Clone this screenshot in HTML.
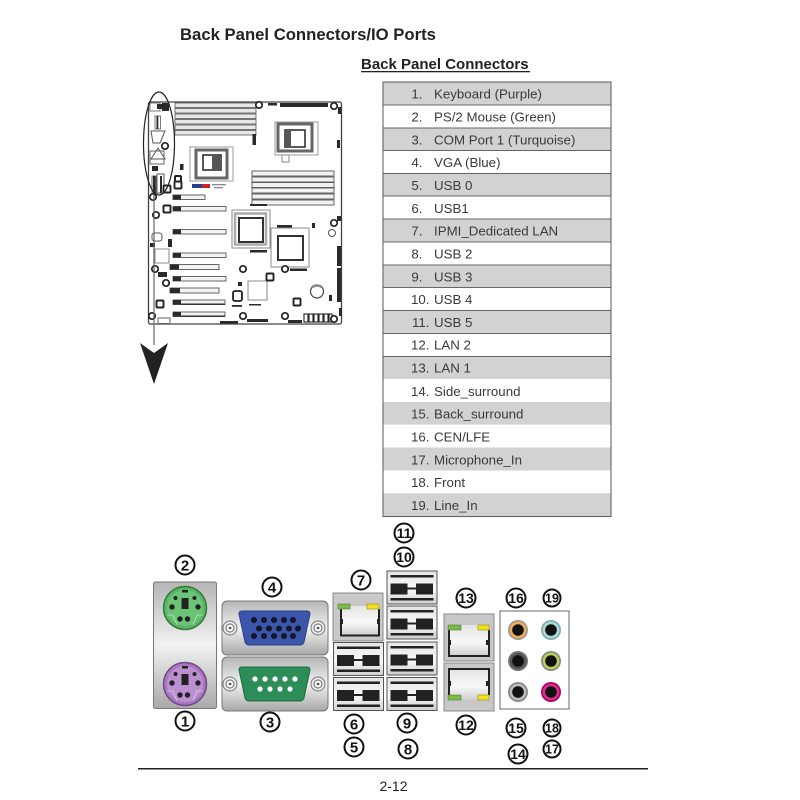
<!DOCTYPE html>
<html><head><meta charset="utf-8"><style>
html,body{margin:0;padding:0;background:#fff}
svg{display:block}
text{font-family:"Liberation Sans",sans-serif}
.t{font-size:13.3px;fill:#3a3a3a}
.n{font-size:13.3px;fill:#3a3a3a;text-anchor:end}
.c{font-size:15px;fill:#111;text-anchor:middle;font-weight:bold}
.d{font-size:14px;fill:#111;text-anchor:middle;font-weight:bold}
.e{font-size:12.5px;fill:#111;text-anchor:middle;font-weight:bold}
.cc{fill:#fff;stroke:#111;stroke-width:2}
.plate{stroke:#777;stroke-width:1}
</style></head><body>
<svg width="800" height="800" viewBox="0 0 800 800" xmlns="http://www.w3.org/2000/svg">
<defs>
<linearGradient id="pl" x1="0" y1="0" x2="0" y2="1"><stop offset="0" stop-color="#b5b5b5"/><stop offset=".5" stop-color="#f2f2f2"/><stop offset="1" stop-color="#a8a8a8"/></linearGradient>
<linearGradient id="pl2" x1="0" y1="0" x2="0" y2="1"><stop offset="0" stop-color="#e4e4e4"/><stop offset=".55" stop-color="#f8f8f8"/><stop offset="1" stop-color="#cfcfcf"/></linearGradient>
<g id="usb"><rect width="50" height="33" fill="url(#pl2)" stroke="#555" stroke-width="1"/><rect x="3.500" y="4" width="43" height="2.500" fill="#222"/><rect x="3.500" y="27" width="43" height="2.500" fill="#222"/><rect x="3.500" y="12.500" width="17" height="11" fill="#222"/><rect x="29" y="12.500" width="17" height="11" fill="#222"/><rect x="20" y="16.500" width="9" height="2" fill="#222"/></g>
<g id="ps2"><rect x="-3" y="-18" width="6" height="2.500" fill="#222"/><rect x="-3.500" y="-10" width="7" height="11" fill="#222"/><circle cx="-13" cy="-1" r="2.700" fill="#222"/><circle cx="13" cy="-1" r="2.700" fill="#222"/><circle cx="-5" cy="11" r="2.700" fill="#222"/><circle cx="2.500" cy="11" r="2.700" fill="#222"/><circle cx="-9.500" cy="-10" r="2" fill="#222"/><circle cx="9.500" cy="-10" r="2" fill="#222"/><path d="M-18 7H-12L-8 17M18 7H12L8 17" fill="none" stroke="#fff" stroke-opacity=".55" stroke-width=".8"/></g>
<g id="screw"><circle r="7" fill="#e8e8e8" stroke="#777"/><circle r="4" fill="#fff" stroke="#666"/><circle r="1.400" fill="#555"/></g>
<g id="ring"><circle r="3.200" fill="#fff" stroke="#222" stroke-width="1.700"/></g>
<g id="sq"><rect x="-3.500" y="-3.500" width="7" height="7" rx="1" fill="#fff" stroke="#222" stroke-width="1.900"/></g>
</defs>

<rect width="800" height="800" fill="#fff"/>
<text x="180" y="40" font-size="16.7" font-weight="bold" fill="#222">Back Panel Connectors/IO Ports</text>
<text x="361" y="69" font-size="15" font-weight="bold" fill="#222">Back Panel Connectors</text>
<rect x="361" y="71" width="169" height="1.300" fill="#222"/>

<!-- table -->
<g fill="#d2d2d2">
<rect x="383" y="82" width="228" height="23"/><rect x="383" y="128" width="228" height="22.500"/><rect x="383" y="173.500" width="228" height="22.500"/><rect x="383" y="219" width="228" height="23"/><rect x="383" y="265" width="228" height="22.500"/><rect x="383" y="310.500" width="228" height="23"/><rect x="383" y="356.500" width="228" height="22.500"/><rect x="383" y="402" width="228" height="22.700"/><rect x="383" y="447.500" width="228" height="23"/><rect x="383" y="493.300" width="228" height="23"/>
</g>
<g stroke="#666" stroke-width="1.100" fill="none">
<rect x="383" y="82" width="228" height="434.500"/>
<path d="M383 105H611M383 128H611M383 150.500H611M383 173.500H611M383 196H611M383 219H611M383 242H611M383 265H611M383 287.500H611M383 310.500H611M383 333.500H611M383 356.500H611"/>
</g>
<g>
<text class="n" x="422.500" y="98.500">1.</text><text class="t" x="434" y="98.500">Keyboard (Purple)</text>
<text class="n" x="422.500" y="121.500">2.</text><text class="t" x="434" y="121.500">PS/2 Mouse (Green)</text>
<text class="n" x="422.500" y="144.500">3.</text><text class="t" x="434" y="144.500">COM Port 1 (Turquoise)</text>
<text class="n" x="422.500" y="167">4.</text><text class="t" x="434" y="167">VGA (Blue)</text>
<text class="n" x="422.500" y="190">5.</text><text class="t" x="434" y="190">USB 0</text>
<text class="n" x="422.500" y="213">6.</text><text class="t" x="434" y="213">USB1</text>
<text class="n" x="422.500" y="235.500">7.</text><text class="t" x="434" y="235.500">IPMI_Dedicated LAN</text>
<text class="n" x="422.500" y="258.500">8.</text><text class="t" x="434" y="258.500">USB 2</text>
<text class="n" x="422.500" y="281.500">9.</text><text class="t" x="434" y="281.500">USB 3</text>
<text class="n" x="429.500" y="304">10.</text><text class="t" x="434" y="304">USB 4</text>
<text class="n" x="429.500" y="327">11.</text><text class="t" x="434" y="327">USB 5</text>
<text class="n" x="429.500" y="349.500">12.</text><text class="t" x="434" y="349.500">LAN 2</text>
<text class="n" x="429.500" y="372.500">13.</text><text class="t" x="434" y="372.500">LAN 1</text>
<text class="n" x="429.500" y="396">14.</text><text class="t" x="434" y="396">Side_surround</text>
<text class="n" x="429.500" y="418.500">15.</text><text class="t" x="434" y="418.500">Back_surround</text>
<text class="n" x="429.500" y="441.500">16.</text><text class="t" x="434" y="441.500">CEN/LFE</text>
<text class="n" x="429.500" y="464.500">17.</text><text class="t" x="434" y="464.500">Microphone_In</text>
<text class="n" x="429.500" y="487">18.</text><text class="t" x="434" y="487">Front</text>
<text class="n" x="429.500" y="510">19.</text><text class="t" x="434" y="510">Line_In</text>
</g>

<!-- motherboard -->
<rect x="148.500" y="102" width="193" height="222" rx="2" fill="#fff" stroke="#444" stroke-width="1.300"/>
<!-- top-left DIMMs -->
<g fill="#e8e8e8" stroke="#555" stroke-width=".8">
<rect x="175" y="103" width="81" height="4.500"/><rect x="175" y="108.500" width="81" height="4.500"/><rect x="175" y="114" width="81" height="4.500"/><rect x="175" y="119.500" width="81" height="4.500"/><rect x="175" y="125" width="81" height="4.500"/><rect x="175" y="130.500" width="81" height="4.500"/>
</g>
<!-- right DIMMs -->
<g fill="#f2f2f2" stroke="#555" stroke-width=".9">
<rect x="252" y="171" width="82" height="5"/><rect x="252" y="177" width="82" height="5"/><rect x="252" y="182.500" width="82" height="5"/><rect x="252" y="188" width="82" height="5"/><rect x="252" y="194" width="82" height="5"/><rect x="252" y="200" width="82" height="5"/>
</g>
<g fill="none" stroke="#444" stroke-width="1">
<!-- CPU1 -->
<rect x="190" y="147" width="43" height="34" stroke="#999"/>
<rect x="196" y="150" width="31" height="28" stroke="#666" stroke-width="3"/>
<rect x="203" y="155" width="18" height="15" stroke="#222" stroke-width="1.500"/>
<rect x="212" y="156" width="8" height="14" fill="#555" stroke="none"/>
<!-- CPU2 -->
<rect x="275" y="122" width="43" height="33" stroke="#999"/>
<rect x="278" y="124" width="34" height="27" stroke="#666" stroke-width="3"/>
<rect x="285" y="130" width="20" height="17" stroke="#222" stroke-width="1.500"/>
<rect x="285" y="131" width="6" height="15" fill="#555" stroke="none"/>
<rect x="282" y="155" width="7" height="7" stroke="#888"/>
<!-- big chips -->
<rect x="232" y="210" width="38" height="38" stroke="#888"/>
<rect x="235" y="213.500" width="31" height="31" stroke="#aaa" stroke-width="2.500"/>
<rect x="239" y="218" width="24" height="24" stroke="#333" stroke-width="2"/>
<rect x="271" y="228" width="38" height="39" stroke="#888"/>
<rect x="278" y="236" width="25" height="24" stroke="#333" stroke-width="2"/>
<!-- slots -->
<g stroke="#666" fill="#f4f4f4">
<rect x="173" y="195" width="32" height="4.500"/>
<rect x="173" y="206.500" width="53" height="4.500"/>
<rect x="173" y="229.500" width="53" height="4.500"/>
<rect x="173" y="253" width="53" height="4.500"/>
<rect x="170" y="264.500" width="49" height="5"/>
<rect x="173" y="276.500" width="53" height="4.500"/>
<rect x="170" y="288" width="49" height="5"/>
<rect x="173" y="300" width="52" height="4.500"/>
<rect x="173" y="312" width="52" height="4.500"/>
</g>
<!-- small parts -->
<rect x="155" y="249" width="14" height="14" stroke="#888"/>
<rect x="152" y="233" width="10" height="8" rx="2.500" stroke="#555"/>
<rect x="248" y="281" width="19" height="19" stroke="#888"/>
<rect x="233" y="291" width="9" height="10" rx="2" stroke="#222" stroke-width="1.800"/>
<circle cx="317" cy="291.500" r="6.500" stroke="#444" stroke-width="1.200"/>
<path d="M312 287Q317 284 322 287" stroke="#888" stroke-width="2.500"/>
<circle cx="332" cy="233" r="3.500" stroke="#555"/>
<rect x="158" y="318" width="12" height="5.500" stroke="#666"/>
<!-- left IO drawn inside ellipse -->
<rect x="150" y="103" width="10" height="8" stroke="#777"/>
<rect x="155" y="116" width="5.500" height="13" stroke="#777"/>
<path d="M151 131H165L160 143H153ZM151 159L158 148L165 159Z" stroke="#555"/>
<rect x="150" y="151" width="14" height="13" stroke="#666"/>
<rect x="152" y="176" width="4" height="17" stroke="#666"/>
<rect x="157" y="174" width="7" height="19" stroke="#555"/>
</g>
<!-- solid parts -->
<g fill="#2a2a2a">
<rect x="173" y="195" width="8" height="4.500"/><rect x="173" y="206.500" width="8" height="4.500"/><rect x="173" y="229.500" width="8" height="4.500"/><rect x="173" y="253" width="8" height="4.500"/><rect x="170" y="264.500" width="9" height="5"/><rect x="173" y="276.500" width="8" height="4.500"/><rect x="170" y="288" width="10" height="5"/><rect x="173" y="300" width="8" height="4.500"/><rect x="173" y="312" width="8" height="4.500"/>
<rect x="181" y="303.500" width="44" height="1.300"/><rect x="181" y="315.500" width="44" height="1.300"/>
<rect x="252.500" y="134" width="3.500" height="11"/>
<rect x="268" y="103" width="9" height="2.500"/>
<rect x="280" y="103" width="48" height="4"/>
<rect x="337" y="140" width="3" height="8"/>
<rect x="338" y="107" width="3" height="7"/>
<rect x="337" y="216" width="4" height="5"/>
<rect x="250" y="250" width="17" height="2.500"/>
<rect x="250" y="204" width="17" height="2"/>
<rect x="277" y="225" width="15" height="2.500"/>
<rect x="290" y="268.500" width="17" height="2.500"/>
<rect x="249" y="304" width="12" height="1.500"/>
<rect x="232" y="305" width="10" height="1.800"/>
<rect x="247" y="319" width="21" height="3"/>
<rect x="288" y="320" width="14" height="3"/>
<rect x="220" y="321" width="18" height="2.500"/>
<rect x="337" y="246" width="4" height="20"/>
<rect x="337" y="268" width="4" height="34"/>
<rect x="339" y="308" width="3" height="8"/>
<rect x="329" y="295" width="3" height="6"/>
<rect x="312" y="223" width="3" height="5"/>
<rect x="238" y="282" width="4" height="4"/>
<rect x="168" y="239" width="4" height="8"/>
<rect x="150" y="243" width="5" height="4"/>
<rect x="158" y="272" width="9" height="5"/>
<rect x="180" y="164" width="3.500" height="6"/>
<rect x="175" y="176" width="6" height="6" rx="1" fill="none" stroke="#222" stroke-width="2"/>
<rect x="156.500" y="116" width="1.800" height="13"/>
<rect x="152" y="166" width="6" height="5"/>
<rect x="153" y="176" width="2.500" height="17"/>
<rect x="160" y="176" width="2" height="17"/>
<rect x="157" y="104" width="8" height="5"/>
<rect x="162" y="103" width="7" height="8"/>
</g>
<!-- connector row bottom right -->
<g fill="#fff" stroke="#222" stroke-width="1.100">
<rect x="304" y="314" width="4" height="8"/><rect x="309" y="314" width="4" height="8"/><rect x="314" y="314" width="4" height="8"/><rect x="319" y="314" width="4" height="8"/><rect x="324" y="314" width="4" height="8"/><rect x="329" y="314" width="3" height="8"/>
</g>
<rect x="192" y="184" width="10" height="4" fill="#2a3f8a"/><rect x="202" y="184" width="8" height="4" fill="#c22"/>
<g fill="#888"><rect x="212" y="184" width="14" height="1.300"/><rect x="214" y="187" width="9" height="1.300"/></g>
<use href="#ring" x="259" y="105"/><use href="#ring" x="334" y="106"/><use href="#ring" x="165" y="146"/><use href="#ring" x="153" y="197"/><use href="#ring" x="156" y="215"/><use href="#ring" x="155" y="269"/><use href="#ring" x="166" y="283"/><use href="#ring" x="152" y="316"/><use href="#ring" x="243" y="269"/><use href="#ring" x="285" y="269"/><use href="#ring" x="243" y="316"/><use href="#ring" x="285" y="316"/><use href="#ring" x="334" y="223"/><use href="#ring" x="334" y="319"/>
<use href="#sq" x="167" y="189"/><use href="#sq" x="178" y="185"/><use href="#sq" x="167" y="209"/><use href="#sq" x="160" y="304"/><use href="#sq" x="297" y="302"/><use href="#sq" x="270" y="277"/>
<ellipse cx="159" cy="143.500" rx="15.500" ry="51.500" stroke="#222" stroke-width="1.200" fill="none"/>

<!-- arrow -->
<path d="M154 195V345" stroke="#666" stroke-width="1.200"/>
<path d="M140 343L154 353L168 343L154 384Z" fill="#222"/>

<!-- PS/2 plate -->
<rect class="plate" x="153.500" y="582" width="63" height="126.500" rx="2" fill="url(#pl)"/>
<circle cx="185" cy="608" r="21.500" fill="#5bb565" stroke="#2f7d3a" stroke-width="1.500"/>
<circle cx="185" cy="608" r="18" fill="#6cc476"/>
<use href="#ps2" x="185" y="608"/>
<circle cx="185" cy="684" r="21.500" fill="#a878c0" stroke="#6f4a85" stroke-width="1.500"/>
<circle cx="185" cy="684" r="18" fill="#bb8fd0"/>
<use href="#ps2" x="185" y="684"/>

<!-- VGA / COM -->
<rect class="plate" x="222" y="601" width="106" height="54" rx="5" fill="url(#pl)"/>
<rect class="plate" x="222" y="657" width="106" height="54" rx="5" fill="url(#pl)"/>
<use href="#screw" x="230" y="628"/><use href="#screw" x="318" y="628"/><use href="#screw" x="230" y="684"/><use href="#screw" x="318" y="684"/>
<path d="M242 611H307Q310 611 310 614L304 642Q303 645 300 645H249Q246 645 245 642L239 614Q239 611 242 611Z" fill="#3c56ab" stroke="#2b3f85"/>
<path d="M242 667H307Q310 667 310 670L304 698Q303 701 300 701H249Q246 701 245 698L239 670Q239 667 242 667Z" fill="#2c8d58" stroke="#1e6b41"/>
<g fill="#14172a">
<circle cx="254" cy="620" r="3"/><circle cx="264" cy="620" r="3"/><circle cx="274" cy="620" r="3"/><circle cx="284" cy="620" r="3"/><circle cx="293" cy="620" r="3"/>
<circle cx="259" cy="628.500" r="3"/><circle cx="269" cy="628.500" r="3"/><circle cx="279" cy="628.500" r="3"/><circle cx="289" cy="628.500" r="3"/><circle cx="298" cy="628.500" r="3"/>
<circle cx="254" cy="636" r="3"/><circle cx="264" cy="636" r="3"/><circle cx="274" cy="636" r="3"/><circle cx="284" cy="636" r="3"/><circle cx="293" cy="636" r="3"/>
</g>
<g fill="#fff">
<circle cx="255" cy="679" r="2.600"/><circle cx="265" cy="679" r="2.600"/><circle cx="275" cy="679" r="2.600"/><circle cx="285" cy="679" r="2.600"/><circle cx="295" cy="679" r="2.600"/>
<circle cx="260" cy="689" r="2.600"/><circle cx="270" cy="689" r="2.600"/><circle cx="280" cy="689" r="2.600"/><circle cx="290" cy="689" r="2.600"/>
</g>

<!-- LAN 7 -->
<rect x="333" y="593" width="50" height="48" fill="#c8c8c8" stroke="#888"/>
<rect x="341" y="606" width="38" height="29" fill="url(#pl2)"/>
<path d="M341 609V635.500H379V609" fill="none" stroke="#222" stroke-width="2"/>
<rect x="338" y="604" width="12" height="5" fill="#7fb84a" stroke="#4f7f2a" stroke-width=".6"/>
<rect x="367" y="604" width="12" height="5" fill="#f0e020" stroke="#998f10" stroke-width=".6"/>
<rect x="340" y="619" width="3" height="5" fill="#222"/><rect x="377" y="619" width="3" height="5" fill="#222"/>

<!-- USB stacks -->
<use href="#usb" x="333.500" y="642.500"/>
<use href="#usb" x="333.500" y="677.500"/>
<use href="#usb" x="387" y="571"/>
<use href="#usb" x="387" y="606"/>
<use href="#usb" x="387" y="642"/>
<use href="#usb" x="387" y="677.500"/>

<!-- LAN 13 / 12 -->
<rect x="444" y="614" width="50" height="47" fill="#c8c8c8" stroke="#888"/>
<rect x="449" y="625" width="40" height="31" fill="url(#pl2)"/>
<path d="M449 630V656H489V630" fill="none" stroke="#222" stroke-width="2"/>
<rect x="448" y="625" width="13" height="5" fill="#7fb84a" stroke="#4f7f2a" stroke-width=".6"/>
<rect x="478" y="625" width="11" height="5" fill="#f0e020" stroke="#998f10" stroke-width=".6"/>
<rect x="448" y="640" width="3" height="5" fill="#222"/><rect x="486" y="640" width="3" height="5" fill="#222"/>
<rect x="444" y="663" width="50" height="48" fill="#c8c8c8" stroke="#888"/>
<rect x="449" y="669" width="40" height="31" fill="url(#pl2)"/>
<path d="M449 695V669H489V695" fill="none" stroke="#222" stroke-width="2"/>
<rect x="448" y="695" width="13" height="5" fill="#7fb84a" stroke="#4f7f2a" stroke-width=".6"/>
<rect x="478" y="695" width="11" height="5" fill="#f0e020" stroke="#998f10" stroke-width=".6"/>
<rect x="448" y="681" width="3" height="5" fill="#222"/><rect x="486" y="681" width="3" height="5" fill="#222"/>

<!-- Audio -->
<rect x="500" y="611" width="69" height="98" fill="#fff" stroke="#666"/>
<g>
<circle cx="518" cy="630" r="10" fill="#999"/><circle cx="518" cy="630" r="8.300" fill="#f0b050"/><circle cx="518" cy="630" r="5.800" fill="#111"/>
<circle cx="551" cy="630" r="10" fill="#8aa"/><circle cx="551" cy="630" r="8.300" fill="#a8dcd8"/><circle cx="551" cy="630" r="5.800" fill="#111"/>
<circle cx="518" cy="661" r="10" fill="#777"/><circle cx="518" cy="661" r="8.300" fill="#555"/><circle cx="518" cy="661" r="5.800" fill="#111"/>
<circle cx="551" cy="661" r="10" fill="#888"/><circle cx="551" cy="661" r="8.300" fill="#b8d450"/><circle cx="551" cy="661" r="5.800" fill="#111"/>
<circle cx="518" cy="692" r="10" fill="#888"/><circle cx="518" cy="692" r="8.300" fill="#bbb"/><circle cx="518" cy="692" r="5.800" fill="#111"/>
<circle cx="551" cy="692" r="10" fill="#a06"/><circle cx="551" cy="692" r="8.300" fill="#d8308f"/><circle cx="551" cy="692" r="5.800" fill="#111"/>
</g>

<!-- circled numbers -->
<circle class="cc" cx="185" cy="565" r="9.500"/><text class="c" x="185" y="570.500">2</text>
<circle class="cc" cx="185" cy="721" r="9.500"/><text class="c" x="185" y="726.500">1</text>
<circle class="cc" cx="272" cy="587" r="9.500"/><text class="c" x="272" y="592.500">4</text>
<circle class="cc" cx="270" cy="722" r="9.500"/><text class="c" x="270" y="727.500">3</text>
<circle class="cc" cx="361" cy="580" r="9.500"/><text class="c" x="361" y="585.500">7</text>
<circle class="cc" cx="354" cy="724" r="9.500"/><text class="c" x="354" y="729.500">6</text>
<circle class="cc" cx="354" cy="747" r="9.500"/><text class="c" x="354" y="752.500">5</text>
<circle class="cc" cx="404" cy="533" r="9.500"/><text class="d" x="404" y="538">11</text>
<circle class="cc" cx="404" cy="557" r="9.500"/><text class="d" x="404" y="562">10</text>
<circle class="cc" cx="466" cy="598" r="9.500"/><text class="d" x="466" y="603">13</text>
<circle class="cc" cx="516" cy="598" r="9.500"/><text class="d" x="516" y="603">16</text>
<circle class="cc" cx="552" cy="598" r="8.500"/><text class="e" x="552" y="602.500">19</text>
<circle class="cc" cx="407" cy="723" r="9.500"/><text class="c" x="407" y="728.500">9</text>
<circle class="cc" cx="408" cy="749" r="9.500"/><text class="c" x="408" y="754.500">8</text>
<circle class="cc" cx="466" cy="725" r="9.500"/><text class="d" x="466" y="730">12</text>
<circle class="cc" cx="516" cy="728" r="9.500"/><text class="d" x="516" y="733">15</text>
<circle class="cc" cx="518" cy="754" r="9.500"/><text class="d" x="518" y="759">14</text>
<circle class="cc" cx="552" cy="728" r="8.500"/><text class="e" x="552" y="732.500">18</text>
<circle class="cc" cx="552" cy="749" r="8.500"/><text class="e" x="552" y="753.500">17</text>

<!-- footer -->
<rect x="138" y="768" width="510" height="1.500" fill="#222"/>
<text x="393.500" y="791" font-size="14" fill="#222" text-anchor="middle">2-12</text>
</svg>
</body></html>
